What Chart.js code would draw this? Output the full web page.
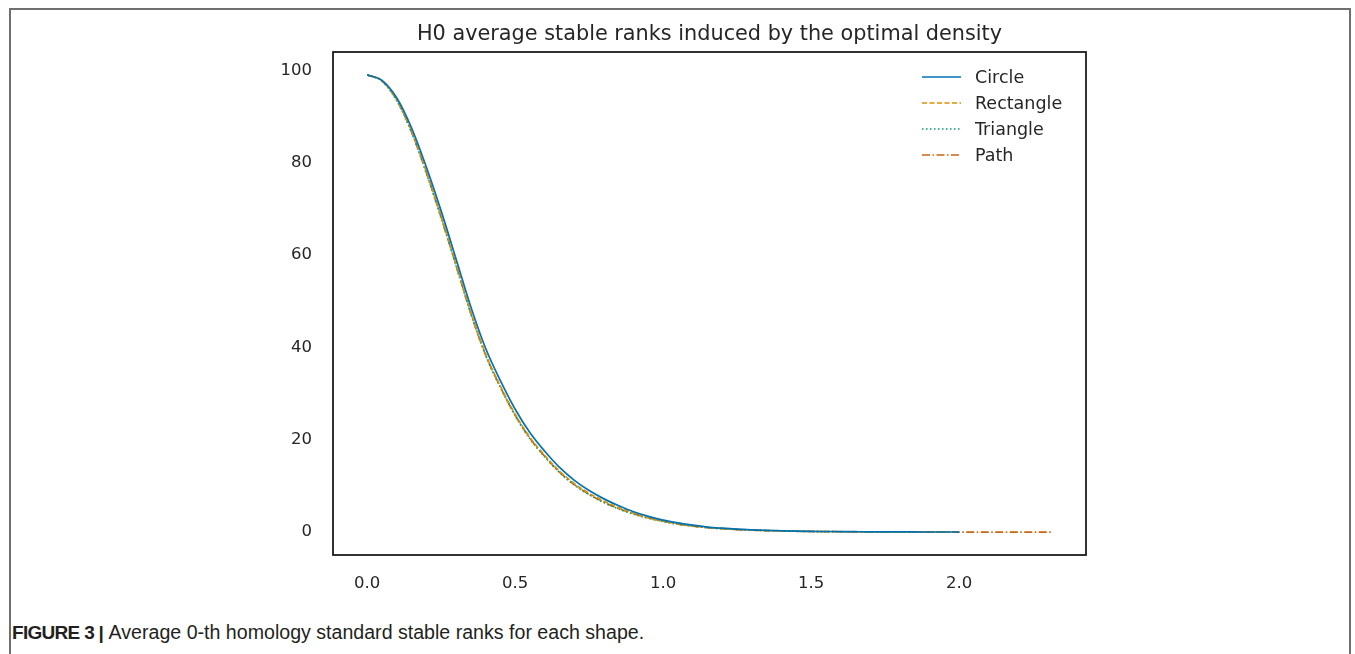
<!DOCTYPE html>
<html lang="en">

<head>
    <meta charset="UTF-8">
    <title>H0 average stable ranks</title>
    <style>
        html, body { margin: 0; padding: 0; background: #fff; }
        body { width: 1355px; height: 654px; position: relative; overflow: hidden; }
        .frame {
            position: absolute; left: 9px; top: 8px; width: 1342px; height: 700px;
            border: 2px solid #6f6f6f; border-bottom: none; box-sizing: border-box;
        }
        .chart-box { position: absolute; left: 0; top: 0; width: 1355px; height: 600px; }
        .caption {
            position: absolute; left: 12px; top: 621px;
            font-family: "Liberation Sans", Arial, sans-serif; font-size: 19.6px; color: #231f20;
            white-space: nowrap;
        }
        .caption b { font-weight: bold; font-size: 19px; letter-spacing: -0.7px; margin-right: 1px; }
    </style>
</head>

<body>
    <div class="frame"></div>
    <div class="chart-box"><canvas id="chart"></canvas></div>
    <div class="caption"><b>FIGURE 3 |</b> Average 0-th homology standard stable ranks for each shape.</div>

    <script src="https://cdn.jsdelivr.net/npm/chart.js"></script>
    <script>
        const titleText = 'H0 average stable ranks induced by the optimal density';

        // x grid (step 0.05) for Circle / Rectangle / Triangle, Path runs a bit further
        const xs = [0.00, 0.05, 0.10, 0.15, 0.20, 0.25, 0.30, 0.35, 0.40, 0.45,
            0.50, 0.55, 0.60, 0.65, 0.70, 0.75, 0.80, 0.85, 0.90, 0.95,
            1.00, 1.05, 1.10, 1.15, 1.20, 1.25, 1.30, 1.35, 1.40, 1.45,
            1.50, 1.55, 1.60, 1.65, 1.70, 1.75, 1.80, 1.85, 1.90, 1.95, 2.00];
        const pathXs = xs.concat([2.05, 2.10, 2.15, 2.20, 2.25, 2.31]);

        const circle = [99.0, 97.8, 94.0, 87.5, 79.0, 69.5, 59.2, 48.8, 39.8, 32.8,
            26.6, 21.5, 17.5, 14.0, 11.2, 9.0, 7.2, 5.7, 4.4, 3.4,
            2.6, 2.0, 1.5, 1.1, 0.85, 0.65, 0.5, 0.38, 0.3, 0.23,
            0.18, 0.14, 0.11, 0.09, 0.07, 0.06, 0.05, 0.04, 0.03, 0.03, 0.02];
        const rectangle = [99.0, 97.7, 93.6, 86.8, 78.0, 68.3, 58.0, 47.6, 38.6, 31.6,
            25.5, 20.5, 16.6, 13.2, 10.5, 8.4, 6.7, 5.3, 4.1, 3.1,
            2.4, 1.8, 1.35, 1.0, 0.76, 0.58, 0.44, 0.33, 0.26, 0.2,
            0.15, 0.12, 0.09, 0.07, 0.06, 0.05, 0.04, 0.03, 0.02, 0.02, 0.01];
        const triangle = [99.0, 97.6, 93.4, 86.5, 77.7, 68.0, 57.7, 47.3, 38.3, 31.3,
            25.2, 20.2, 16.3, 12.9, 10.2, 8.1, 6.4, 5.0, 3.9, 3.0,
            2.3, 1.7, 1.3, 0.95, 0.72, 0.55, 0.42, 0.32, 0.24, 0.18,
            0.14, 0.11, 0.08, 0.06, 0.05, 0.04, 0.03, 0.02, 0.02, 0.01, 0.01];
        const path = [99.0, 97.7, 93.5, 86.6, 77.8, 68.1, 57.8, 47.4, 38.4, 31.4,
            25.3, 20.3, 16.4, 13.0, 10.3, 8.2, 6.5, 5.1, 4.0, 3.05,
            2.35, 1.75, 1.3, 0.97, 0.74, 0.56, 0.43, 0.33, 0.25, 0.19,
            0.14, 0.11, 0.08, 0.06, 0.05, 0.04, 0.03, 0.02, 0.02, 0.01,
            0.01, 0.01, 0.01, 0.0, 0.0, 0.0, 0.0];

        const xTicks = [0.0, 0.5, 1.0, 1.5, 2.0];
        const yTicks = [0, 20, 40, 60, 80, 100];

        function toPoints(x, y) {
            return x.map((v, i) => ({ x: v, y: y[i] }));
        }

        function line(label, x, y, color, dash) {
            return {
                label: label,
                data: toPoints(x, y),
                borderColor: color,
                borderWidth: 1.7,
                borderDash: dash,
                pointRadius: 0,
                fill: false,
                cubicInterpolationMode: 'monotone'
            };
        }

        // frame, title and legend drawn by hand (matplotlib look)
        const overlay = {
            id: 'overlay',
            afterDraw(chart) {
                const ctx = chart.ctx;
                const a = chart.chartArea;
                ctx.save();
                ctx.strokeStyle = '#1c1c1c';
                ctx.lineWidth = 1.8;
                ctx.strokeRect(a.left, a.top, a.right - a.left, a.bottom - a.top);

                ctx.fillStyle = '#262626';
                ctx.font = '20.8px "DejaVu Sans"';
                ctx.textAlign = 'center';
                ctx.textBaseline = 'alphabetic';
                ctx.fillText(titleText, (a.left + a.right) / 2, a.top - 12);

                ctx.font = '17.5px "DejaVu Sans"';
                ctx.textAlign = 'left';
                ctx.textBaseline = 'middle';
                chart.data.datasets.forEach((ds, i) => {
                    const y = a.top + 25 + i * 26;
                    ctx.strokeStyle = ds.borderColor;
                    ctx.lineWidth = ds.borderWidth;
                    ctx.setLineDash(ds.borderDash || []);
                    ctx.beginPath();
                    ctx.moveTo(a.right - 164, y);
                    ctx.lineTo(a.right - 125, y);
                    ctx.stroke();
                    ctx.setLineDash([]);
                    ctx.fillText(ds.label, a.right - 111, y + 1);
                });
                ctx.restore();
            }
        };

        const ctx = document.getElementById('chart').getContext('2d');
        const chart = new Chart(ctx, {
            type: 'line',
            data: {
                datasets: [
                    line('Circle', xs, circle, '#0173b2', []),
                    line('Rectangle', xs, rectangle, '#de8f05', [5, 2.5]),
                    line('Triangle', xs, triangle, '#029e73', [1.5, 2.5]),
                    line('Path', pathXs, path, '#c9650f', [8, 2.5, 1.5, 2.5])
                ]
            },
            options: {
                responsive: true,
                maintainAspectRatio: false,
                animation: false,
                layout: { padding: { left: 273, right: 269, top: 52, bottom: 5 } },
                plugins: {
                    legend: { display: false },
                    tooltip: { enabled: false }
                },
                scales: {
                    x: {
                        type: 'linear',
                        min: -0.1156,
                        max: 2.4287,
                        grid: { display: false, drawTicks: false },
                        border: { display: false },
                        afterBuildTicks: (s) => { s.ticks = xTicks.map(v => ({ value: v })); },
                        afterFit: (s) => { s.height = 40; },
                        ticks: {
                            padding: 19,
                            color: '#262626',
                            font: { family: 'DejaVu Sans', size: 16.5 },
                            callback: (v) => Number(v).toFixed(1)
                        }
                    },
                    y: {
                        min: -4.95,
                        max: 103.95,
                        grid: { display: false, drawTicks: false },
                        border: { display: false },
                        afterBuildTicks: (s) => { s.ticks = yTicks.map(v => ({ value: v })); },
                        afterFit: (s) => { s.width = 60; },
                        ticks: {
                            padding: 21,
                            color: '#262626',
                            font: { family: 'DejaVu Sans', size: 16.5 }
                        }
                    }
                }
            },
            plugins: [overlay]
        });
    </script>

</body>

</html>
